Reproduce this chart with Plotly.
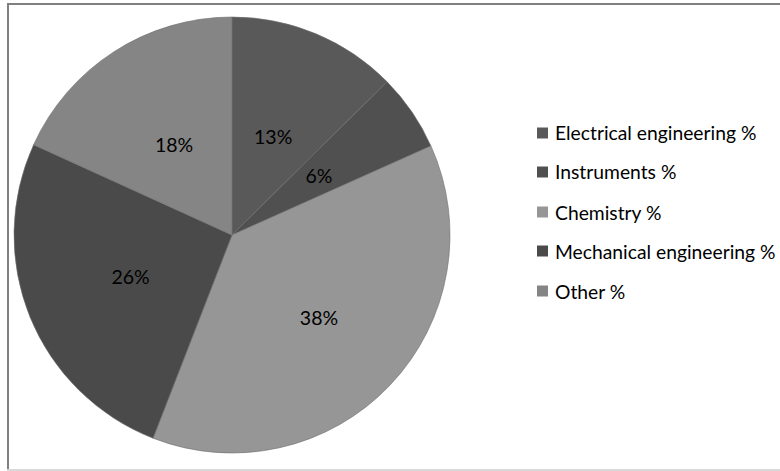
import plotly.graph_objects as go

W, H = 780, 471

categories = ["Electrical engineering %", "Instruments %", "Chemistry %",
              "Mechanical engineering %", "Other %"]
values = [12.6, 5.7, 37.6, 25.9, 18.2]
colors = ["#595959", "#505050", "#969696", "#4a4a4a", "#858585"]

FONT = "Lato, Liberation Sans, sans-serif"

def px(x):
    return x / W

def py(y):
    return 1 - y / H

CX, CY, R = 232, 235, 218
total = sum(values)
pct_text = [f"{v / total * 100:.0f}%" for v in values]

fig = go.Figure()
fig.add_trace(go.Pie(
    labels=categories,
    values=values,
    sort=False,
    direction="clockwise",
    rotation=0,
    marker=dict(colors=colors, line=dict(color="#6e6e6e", width=0.6)),
    textinfo="none",
    domain=dict(x=[px(CX - R), px(CX + R)], y=[py(CY + R), py(CY - R)]),
    showlegend=False,
    hoverinfo="label+percent",
))

# invisible pies of various radii carry the percentage labels so that each
# label sits at roughly the same radial distance as in the reference
label_groups = [(148, [0]), (165, [4]), (124, [1]), (189, [3]), (231, [2])]
for r_lbl, idx in label_groups:
    fig.add_trace(go.Pie(
        labels=categories,
        values=values,
        sort=False,
        direction="clockwise",
        rotation=0,
        marker=dict(colors=["rgba(0,0,0,0)"] * len(values), line=dict(width=0)),
        text=[t if i in idx else "" for i, t in enumerate(pct_text)],
        textinfo="text",
        textposition="inside",
        insidetextorientation="horizontal",
        textfont=dict(family=FONT, size=19.5, color="#000000"),
        domain=dict(x=[max(0, px(CX - r_lbl)), min(1, px(CX + r_lbl))],
                    y=[max(0, py(CY + r_lbl)), min(1, py(CY - r_lbl))]),
        showlegend=False,
        hoverinfo="skip",
    ))

shapes = []
annotations = []
legend_y = [133, 172, 212, 251, 291]
for cat, col, yy in zip(categories, colors, legend_y):
    shapes.append(dict(type="rect", xref="paper", yref="paper",
                       x0=px(537), x1=px(548), y0=py(yy + 5.5), y1=py(yy - 5.5),
                       fillcolor=col, line=dict(width=0)))
    annotations.append(dict(xref="paper", yref="paper", x=px(553), y=py(yy),
                            xanchor="left", yanchor="middle", text=cat,
                            showarrow=False,
                            font=dict(family=FONT, size=19.3, color="#000000")))

# chart border
shapes.append(dict(type="line", xref="paper", yref="paper", x0=px(8), x1=px(8),
                   y0=py(3), y1=py(470), line=dict(color="#808080", width=2)))
shapes.append(dict(type="line", xref="paper", yref="paper", x0=px(7), x1=px(790),
                   y0=py(4), y1=py(4), line=dict(color="#808080", width=2)))
shapes.append(dict(type="line", xref="paper", yref="paper", x0=px(7), x1=px(790),
                   y0=py(470), y1=py(470), line=dict(color="#d9d9d9", width=2)))

fig.update_layout(
    width=W, height=H,
    margin=dict(l=0, r=0, t=0, b=0),
    paper_bgcolor="#ffffff",
    plot_bgcolor="#ffffff",
    shapes=shapes,
    annotations=annotations,
    font=dict(family=FONT),
)

fig.write_html("out.html")
